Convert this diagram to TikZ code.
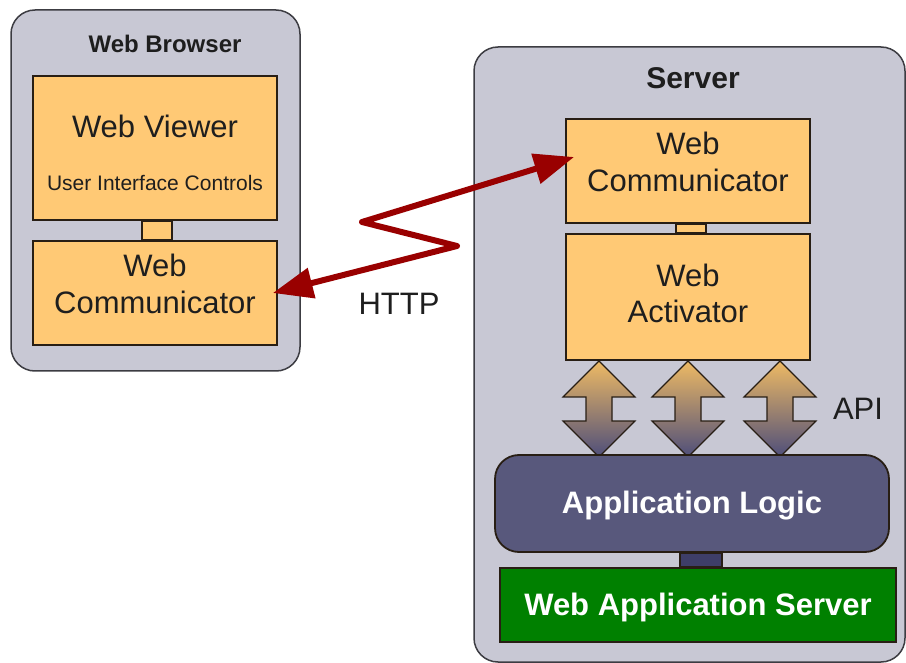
\documentclass[tikz,border=0pt]{standalone}
\usepackage{fontspec}
\setmainfont{Liberation Sans}
\usetikzlibrary{arrows.meta}
\pgfdeclarelayer{back}
\pgfsetlayers{back,main}
\definecolor{contfill}{RGB}{200,200,212}
\definecolor{contline}{RGB}{60,60,66}
\definecolor{orangebox}{RGB}{255,201,117}
\definecolor{boxline}{RGB}{40,30,20}
\definecolor{logicfill}{RGB}{88,88,124}
\definecolor{stubdark}{RGB}{62,62,104}
\definecolor{wasgreen}{RGB}{0,128,0}
\definecolor{httpred}{RGB}{153,0,0}
\definecolor{apitop}{RGB}{238,186,100}
\definecolor{apibot}{RGB}{78,78,122}
\definecolor{txt}{RGB}{30,30,30}
\newcommand{\apiarrow}[1]{%
  \shade[apishade] (#1,361) -- ++(36,36) -- ++(-23,0) -- ++(0,24) -- ++(23,0)
    -- ++(-36,36) -- ++(-36,-36) -- ++(23,0) -- ++(0,-24) -- ++(-23,0) -- cycle;}
\tikzset{
  container/.style={draw=contline, fill=contfill, line width=1.5pt, rounded corners=24pt},
  obox/.style={draw=boxline, fill=orangebox, line width=1.8pt, inner sep=0pt},
  stub/.style={draw=boxline, fill=orangebox, line width=1.5pt},
  darkstub/.style={draw=boxline, fill=stubdark, line width=1.5pt},
  lbl/.style={anchor=base, inner sep=0pt, text=txt, font=\fontsize{31}{36}\selectfont},
  smalllbl/.style={anchor=base, inner sep=0pt, text=txt, font=\fontsize{21}{25}\selectfont},
  title/.style={anchor=base, inner sep=0pt, text=txt, font=\bfseries\fontsize{#1}{#1}\selectfont},
  whitelbl/.style={anchor=base, inner sep=0pt, text=white, font=\bfseries\fontsize{31}{36}\selectfont},
  apishade/.style={top color=apitop, bottom color=apibot, draw=boxline, line width=1.2pt},
  httparrow/.style={draw=httpred, line width=6pt, line join=round,
    {Triangle[length=40pt,width=30pt]}-{Triangle[length=40pt,width=30pt]}}
}
\begin{document}
\begin{tikzpicture}[x=1pt,y=-1pt]
\useasboundingbox (0,0) rectangle (906,663);
% containers
\begin{pgfonlayer}{back}
\node[container, minimum width=289pt, minimum height=361pt] (browser) at (155.5,190.5) {};
\node[container, minimum width=431pt, minimum height=615pt] (server) at (689.5,354.5) {};
\end{pgfonlayer}
\node[title=24] (browsertitle) at (165,53) {Web Browser};
\node[title=30] (servertitle) at (693,89) {Server};
% browser boxes
\node[obox, minimum width=244pt, minimum height=144pt] (viewer) at (155,148) {};
\node[obox, minimum width=244pt, minimum height=104pt] (bcomm) at (155,293) {};
\node[lbl] (viewerlbl) at (155,138) {Web Viewer};
\node[smalllbl] (uilbl) at (155,191) {User Interface Controls};
\node[lbl] (bweb) at (155,277) {Web};
\node[lbl] (bcommlbl) at (155,314) {Communicator};
% server boxes
\node[obox, minimum width=244pt, minimum height=104pt] (scomm) at (688,171) {};
\node[obox, minimum width=244pt, minimum height=126pt] (activator) at (688,297) {};
\node[lbl] (sweb) at (688,155) {Web};
\node[lbl] (scommlbl) at (688,192) {Communicator};
\node[lbl] (aweb) at (688,287) {Web};
\node[lbl] (actlbl) at (688,323) {Activator};
% API arrows
\apiarrow{599}
\apiarrow{688}
\apiarrow{780}
\node[lbl] (apilbl) at (858,419) {API};
% application logic and server
\node[draw=boxline, fill=logicfill, line width=1.8pt, rounded corners=24pt,
      minimum width=394pt, minimum height=97pt] (logic) at (692,503.5) {};
\node[draw=boxline, fill=wasgreen, line width=1.8pt,
      minimum width=396pt, minimum height=74pt] (was) at (698,605) {};
\node[whitelbl] (logiclbl) at (692,513) {Application Logic};
\node[whitelbl] (waslbl) at (698,615) {Web Application Server};
% connector stubs behind the boxes
\begin{pgfonlayer}{back}
\draw[stub] ([xshift=-13pt]viewer.south) rectangle ([xshift=17pt]bcomm.north);
\draw[stub] ([xshift=-12pt]scomm.south) rectangle ([xshift=18pt]activator.north);
\draw[darkstub] ([xshift=-12pt]logic.south) rectangle ([xshift=24pt]was.north);
\end{pgfonlayer}
% HTTP connection
\coordinate (zA) at (457,246);
\coordinate (zB) at (362,222);
\draw[httparrow] ([xshift=-5pt]bcomm.east) -- (zA) -- (zB) -- ([xshift=9pt,yshift=14pt]scomm.west);
\node[lbl] (httplbl) at (399,315) {HTTP};
\end{tikzpicture}
\end{document}
